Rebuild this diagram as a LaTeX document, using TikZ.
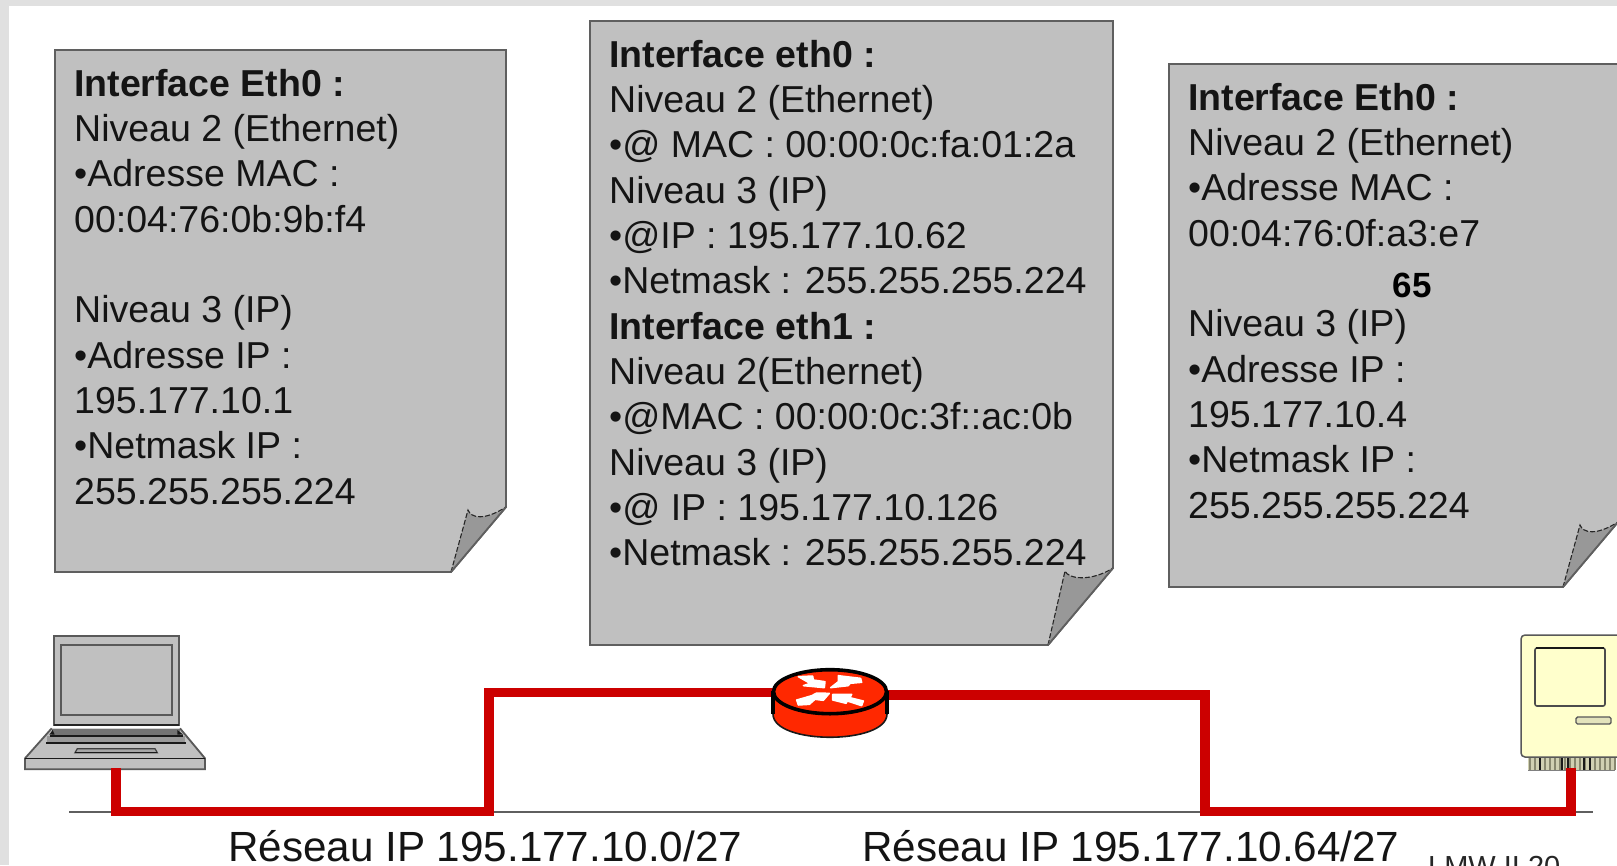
\documentclass[tikz,border=0pt]{standalone}
\usepackage{fontspec}
\setmainfont{Liberation Sans}
\definecolor{notegray}{RGB}{192,192,192}
\definecolor{foldgray}{RGB}{152,152,152}
\definecolor{edgegray}{RGB}{95,95,95}
\definecolor{wirered}{RGB}{204,0,0}
\definecolor{routerred}{RGB}{255,40,0}
\definecolor{macyellow}{RGB}{255,255,204}
\definecolor{stripcol}{RGB}{208,208,178}
\definecolor{stripline}{RGB}{135,135,110}
\definecolor{framegray}{RGB}{224,224,224}
\tikzset{
  notetext/.style={anchor=north west,align=left,inner sep=0pt,font=\fontsize{37.5}{45.3}\selectfont,text=black!92},
  noteshape/.style={fill=notegray,draw=edgegray,line width=1.8pt},
  foldshape/.style={draw=black!85,line width=1.1pt,dash pattern=on 5pt off 2pt},
  wire/.style={draw=wirered,line width=9.5pt,line join=miter},
  netlabel/.style={anchor=base west,inner sep=0pt,font=\fontsize{42.2}{50}\selectfont,text=black!92},
  devline/.style={draw=black!65,line width=1.8pt},
  arrowwhite/.style={fill=white,draw=white,line width=1.5pt,line join=round},
  zoomcoords/.style={x=0.33333pt,y=-0.33333pt}
}
\newcommand{\notepage}[7]{% x0,y0,x1,y1,foldx,foldy,name
  \path[noteshape] (#1,#2) -- (#3,#2) -- (#3,#6) -- (#5,#4) -- (#1,#4) -- cycle;
  \path[fill=foldgray] (#5,#4) -- ({#5+17},{#6+3})
     .. controls ({#5+20},{#6+11}) and ({#3-22},{#6+14}) .. (#3,#6) -- cycle;
  \path[foldshape] (#5,#4) -- ({#5+17},{#6+3})
     .. controls ({#5+20},{#6+11}) and ({#3-22},{#6+14}) .. (#3,#6);
  \draw[edgegray,line width=1.8pt] (#3,#6) -- (#5,#4);
  \coordinate (#7) at (#1,#2);
}
\begin{document}
\begin{tikzpicture}[x=1pt,y=-1pt]
\useasboundingbox (0,0) rectangle (1617,865);
\clip (0,0) rectangle (1617,865);
\fill[framegray] (0,0) rectangle (1617,865);
\fill[white] (9,6) rectangle (1617,865);

\notepage{55}{50}{506}{572}{451}{507}{left}
\notepage{590}{21}{1113}{645}{1048}{568}{center}
\notepage{1169}{64}{1618}{587}{1563}{522}{right}

\node[notetext] (lefttext) at (74,69) {\textbf{Interface Eth0 :}\\Niveau 2 (Ethernet)\\•Adresse MAC :\\00:04:76:0b:9b:f4\\[45.3pt]Niveau 3 (IP)\\•Adresse IP :\\195.177.10.1\\•Netmask IP :\\255.255.255.224};
\node[notetext] (centertext) at (609,40) {\textbf{Interface eth0 :}\\Niveau 2 (Ethernet)\\•@ MAC : 00:00:0c:fa:01:2a\\Niveau 3 (IP)\\•@IP : 195.177.10.62\\•Netmask : 255.255.255.224\\\textbf{Interface eth1 :}\\Niveau 2(Ethernet)\\•@MAC : 00:00:0c:3f::ac:0b\\Niveau 3 (IP)\\•@ IP : 195.177.10.126\\•Netmask : 255.255.255.224};
\node[notetext] (righttext) at (1188,83) {\textbf{Interface Eth0 :}\\Niveau 2 (Ethernet)\\•Adresse MAC :\\00:04:76:0f:a3:e7\\[45.3pt]Niveau 3 (IP)\\•Adresse IP :\\195.177.10.4\\•Netmask IP :\\255.255.255.224};
\node[anchor=center,inner sep=0pt,font=\fontsize{35}{40}\selectfont\bfseries] (sixtyfive) at (1412,285) {65};

% network line
\coordinate (busL) at (69,812);
\coordinate (busR) at (1593,812);
\draw[edgegray,line width=2.5pt] (busL) -- (busR);

% laptop screen
\fill[notegray] (54,636) rectangle (179,725);
\draw[devline] (54,636) rectangle (179,725);
\draw[devline,line width=2.6pt] (61,645) rectangle (172,715);
\draw[black!85,line width=1.4pt] (54,725) -- (179,725);
% laptop base, drawn in the crop's coordinates
\begin{scope}[shift={(20,720)},zoomcoords]
  \fill[notegray] (95,25) -- (480,25) -- (555,115) -- (15,115) -- cycle;
  \fill[notegray] (15,115) rectangle (555,148);
  \draw[devline] (95,25) -- (15,115) -- (15,148) -- (555,148) -- (555,115) -- (480,25);
  \fill[black!55] (95,28) rectangle (480,48);
  \fill[black!40] (82,48) rectangle (495,68);
  \draw[black!90,line width=1.8pt] (90,48) -- (488,48);
  \draw[black!90,line width=1.8pt] (78,68) -- (497,68);
  \fill[black!90] (88,44) -- (98,30) -- (104,44) -- cycle;
  \fill[black!90] (472,30) -- (490,44) -- (472,44) -- cycle;
  \draw[black!90,line width=1.5pt] (15,115) -- (555,115);
  \draw[black!75,line width=1.2pt,fill=black!35] (172,86) -- (405,86) -- (412,98) -- (165,98) -- cycle;
  \draw[black!90,line width=1.6pt] (165,98) -- (412,98);
\end{scope}
\coordinate (laptopport) at (116,768);

% Mac
\fill[macyellow,draw=black!65,line width=1.5pt,rounded corners=4pt] (1521,757) rectangle (1640,635);
\draw[black!70,line width=1.6pt,rounded corners=2pt] (1535,648) rectangle (1605,706);
\draw[black!90,line width=1.4pt] (1536,648) -- (1604,648);
\fill[stripcol!60!macyellow,draw=black!65,line width=1.4pt,rounded corners=1.5pt] (1576,717) rectangle (1611,724);
\fill[stripcol] (1528,758) rectangle (1615,770);
\foreach \xx in {1530,1535,...,1615} {\draw[stripline,line width=1.1pt] (\xx,758) -- (\xx,770);}
\foreach \xx in {1540,1562,1568,1584,1590} {\draw[black!90,line width=1.4pt] (\xx,758) -- (\xx,770);}
\draw[black!50,line width=1pt] (1528,770) -- (1615,770);
\coordinate (macport) at (1571,768);

% wires
\coordinate (routerL) at (775,692.5);
\coordinate (routerR) at (888,695);
\draw[wire] (laptopport) -- (116,811.5) -- (489,811.5) -- (489,692.5) -- (routerL);
\draw[wire] (routerR) -- (1205,695) -- (1205,811.5) -- (1571,811.5) -- (macport);

% router
\path[fill=routerred] (773,691) -- (773,714) .. controls (773,745) and (887,745) .. (887,714) -- (887,691) -- cycle;
\draw[black!90,line width=1.6pt] (773,714) .. controls (773,745) and (887,745) .. (887,714);
\draw[black,line width=3.2pt] (773,691) -- (773,714) (887,691) -- (887,714);
\path[fill=routerred,draw=black,line width=3.6pt] (830,691.7) ellipse[x radius=56.5,y radius=22];
\node[inner sep=0pt,minimum size=0pt] (routernode) at (830,692) {};
\begin{scope}[shift={(770,665)},zoomcoords]
  \path[arrowwhite] (85,35) -- (128,33) -- (130,45) -- (165,50) -- (163,68) -- (100,62) -- (120,55) -- cycle;
  \path[arrowwhite] (205,32) -- (272,40) -- (275,52) -- (240,55) -- (235,62) -- (182,68) -- (205,50) -- cycle;
  \path[arrowwhite] (178,85) -- (140,84) -- (125,92) -- (80,105) -- (85,120) -- (118,118) -- (135,103) -- (160,106) -- cycle;
  \path[arrowwhite] (188,88) -- (245,88) -- (240,98) -- (280,108) -- (275,122) -- (232,108) -- (228,115) -- (188,105) -- cycle;
\end{scope}

% labels
\node[netlabel] (net1) at (228,861) {Réseau IP 195.177.10.0/27};
\node[netlabel] (net2) at (862,861) {Réseau IP 195.177.10.64/27};
\node[anchor=base west,inner sep=0pt,font=\fontsize{29}{32}\selectfont,text=black!85] (pageno) at (1428,876) {LMW II 20};
\end{tikzpicture}
\end{document}
